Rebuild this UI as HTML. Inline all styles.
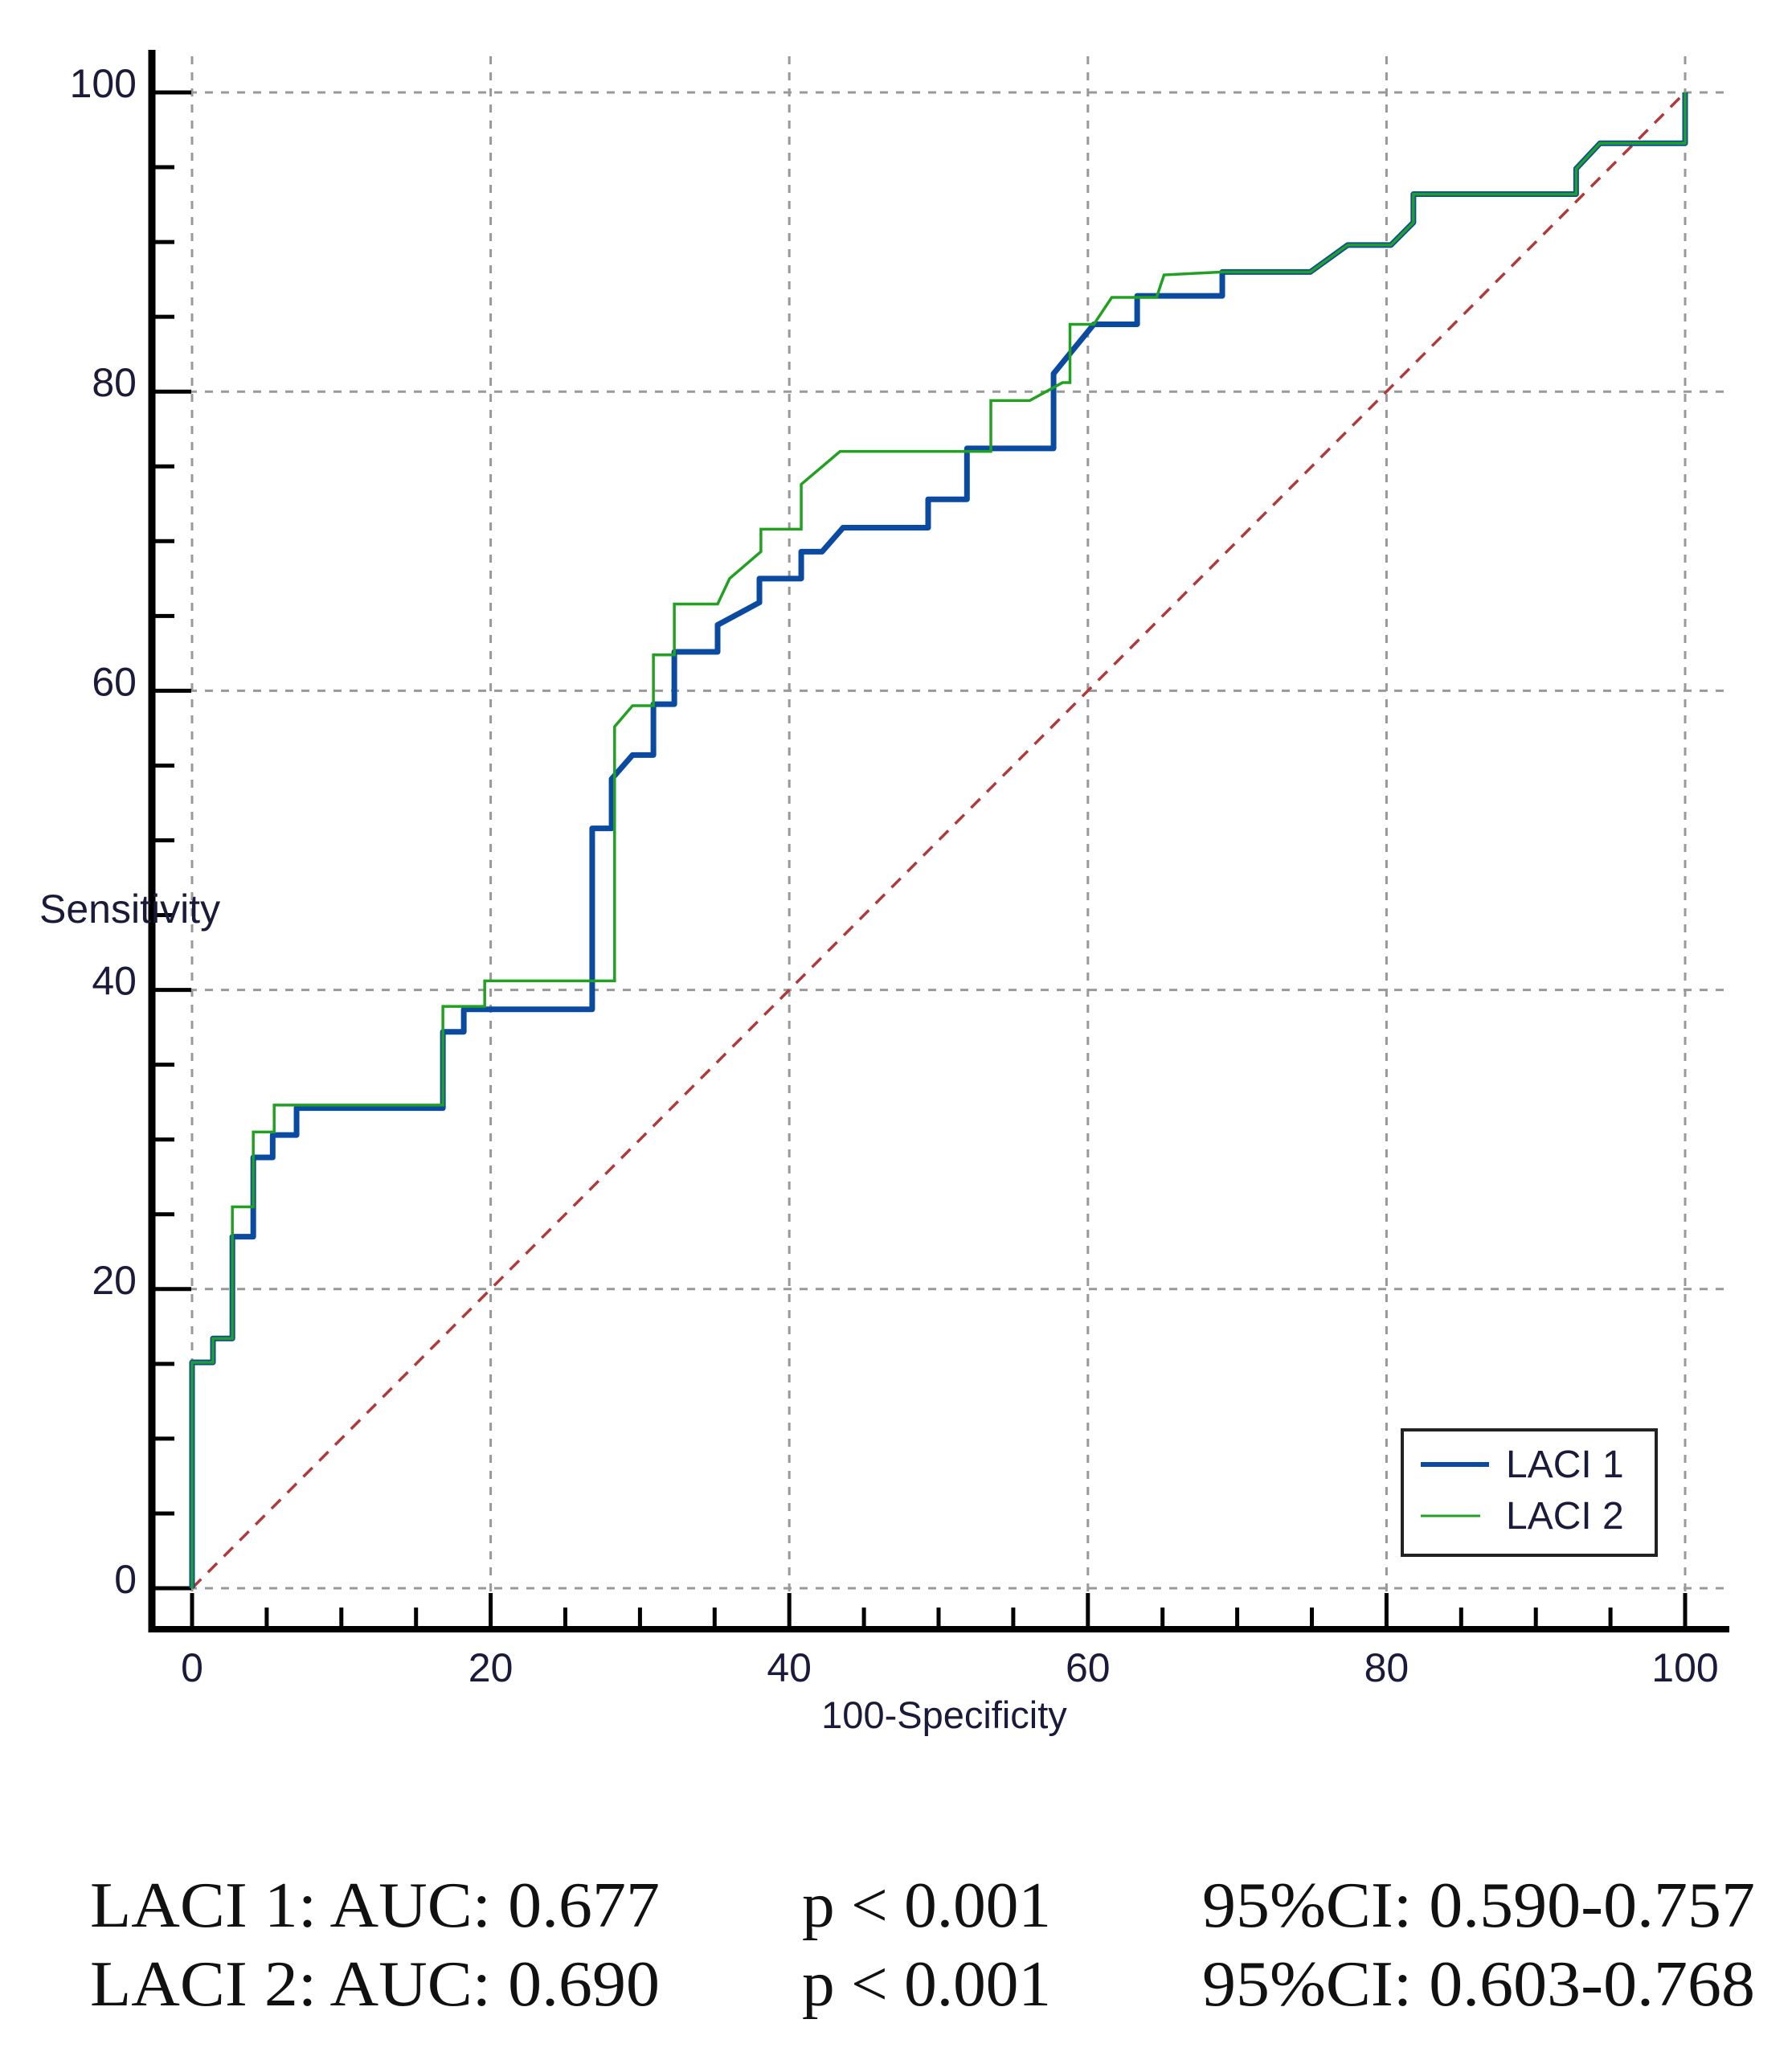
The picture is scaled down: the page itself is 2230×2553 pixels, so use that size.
<!DOCTYPE html>
<html><head><meta charset="utf-8"><style>
html,body{margin:0;padding:0;background:#fff;}
svg{display:block;}
</style></head><body>
<svg id="chart" width="2230" height="2553" viewBox="0 0 2230 2553" xmlns="http://www.w3.org/2000/svg">
<g id="grid"></g>
<g id="axes"></g>
<g id="series"></g>
<g>
  <rect x="1745" y="1779" width="316" height="156" fill="#fff" stroke="#222" stroke-width="4"/>
  <line x1="1768" y1="1822" x2="1853" y2="1822" stroke="#0a4aa0" stroke-width="6"/>
  <text x="1874" y="1838" font-family="Liberation Sans, sans-serif" font-size="48" fill="#1a1a3a">LACI 1</text>
  <line x1="1768" y1="1886" x2="1842" y2="1886" stroke="#22a022" stroke-width="3"/>
  <text x="1874" y="1902" font-family="Liberation Sans, sans-serif" font-size="48" fill="#1a1a3a">LACI 2</text>
</g>
<text x="1175" y="2150" text-anchor="middle" font-family="Liberation Sans, sans-serif" font-size="47" fill="#1a1a3a">100-Specificity</text>
<text x="49" y="1148" font-family="Liberation Sans, sans-serif" font-size="50" fill="#1a1a3a">Sensitivity</text>
<g font-family="Liberation Serif, serif" font-size="80" fill="#111">
  <text x="112" y="2397" textLength="709" lengthAdjust="spacingAndGlyphs">LACI 1: AUC: 0.677</text>
  <text x="998" y="2397" textLength="310" lengthAdjust="spacingAndGlyphs">p &lt; 0.001</text>
  <text x="1496" y="2397" textLength="688" lengthAdjust="spacingAndGlyphs">95%CI: 0.590-0.757</text>
  <text x="112" y="2495" textLength="709" lengthAdjust="spacingAndGlyphs">LACI 2: AUC: 0.690</text>
  <text x="998" y="2495" textLength="310" lengthAdjust="spacingAndGlyphs">p &lt; 0.001</text>
  <text x="1496" y="2495" textLength="688" lengthAdjust="spacingAndGlyphs">95%CI: 0.603-0.768</text>
</g>
</svg>
<script>
const xTicks = [0, 20, 40, 60, 80, 100];
const yTicks = [0, 20, 40, 60, 80, 100];
const laci1X = [0,0,1.4,1.4,2.7,2.7,4.1,4.1,5.4,5.4,7.0,7.0,16.8,16.8,18.2,18.2,26.8,26.8,28.1,28.1,29.5,30.9,30.9,32.3,32.3,35.2,35.2,38.0,38.0,40.8,40.8,42.2,43.6,49.3,49.3,51.9,51.9,57.7,57.7,60.4,63.3,63.3,69.0,69.0,74.9,77.4,80.3,81.8,81.8,92.7,92.7,94.3,100,100];
const laci1Y = [0,15.1,15.1,16.7,16.7,23.5,23.5,28.8,28.8,30.3,30.3,32.1,32.1,37.2,37.2,38.7,38.7,50.8,50.8,54.1,55.7,55.7,59.1,59.1,62.6,62.6,64.4,65.9,67.5,67.5,69.3,69.3,70.9,70.9,72.8,72.8,76.2,76.2,81.2,84.5,84.5,86.4,86.4,88.0,88.0,89.8,89.8,91.3,93.2,93.2,94.9,96.6,96.6,100];
const laci2X = [0,0,1.4,1.4,2.7,2.7,4.1,4.1,5.5,5.5,16.8,16.8,19.6,19.6,28.3,28.3,29.5,30.9,30.9,32.3,32.3,35.2,36.0,38.1,38.1,40.8,40.8,43.4,53.5,53.5,56.1,58.3,58.8,58.8,60.4,61.6,64.6,65.1,69.0,69.0,74.9,77.4,80.3,81.8,81.8,92.7,92.7,94.3,100,100];
const laci2Y = [0,15.1,15.1,16.7,16.7,25.5,25.5,30.5,30.5,32.3,32.3,38.9,38.9,40.6,40.6,57.6,59.0,59.0,62.4,62.4,65.8,65.8,67.5,69.3,70.8,70.8,73.8,76.0,76.0,79.4,79.4,80.6,80.6,84.5,84.5,86.3,86.3,87.8,88.0,88.0,88.0,89.8,89.8,91.3,93.2,93.2,94.9,96.6,96.6,100];
const refX = [0, 100];
const refY = [0, 100];

const NS = 'http://www.w3.org/2000/svg';
const X0 = 239, X1 = 2097, Y0 = 1976, Y1 = 115;
const AXY = 2027;
const xs = v => X0 + (X1 - X0) * v / 100;
const ys = v => Y0 - (Y0 - Y1) * v / 100;
function mk(tag, attrs, parent) {
  const e = document.createElementNS(NS, tag);
  for (const k in attrs) e.setAttribute(k, attrs[k]);
  parent.appendChild(e);
  return e;
}
const grid = document.getElementById('grid');
const axes = document.getElementById('axes');
const series = document.getElementById('series');

xTicks.forEach(t => {
  const l = mk('line', {x1: xs(t), y1: 70, x2: xs(t), y2: AXY - 6, stroke: '#999', 'stroke-width': 3, 'stroke-dasharray': '10,10'}, grid);
  
  
});
yTicks.forEach(t => {
  const l = mk('line', {x1: 195, y1: ys(t), x2: 2145, y2: ys(t), stroke: '#999', 'stroke-width': 3, 'stroke-dasharray': '10,10'}, grid);
  
  
});

const ya = mk('line', {x1: 189, y1: 62, x2: 189, y2: AXY + 4, stroke: '#000', 'stroke-width': 9}, axes);


const xa = mk('line', {x1: 185, y1: AXY, x2: 2152, y2: AXY, stroke: '#000', 'stroke-width': 8}, axes);



for (let v = 0; v <= 100; v += 5) {
  const major = v % 20 === 0;
  const ty = mk('line', {x1: 189, y1: ys(v), x2: major ? 238 : 217, y2: ys(v), stroke: '#000', 'stroke-width': 5}, axes);
  
  
  const tx = mk('line', {x1: xs(v), y1: AXY, x2: xs(v), y2: major ? AXY - 45 : AXY - 27, stroke: '#000', 'stroke-width': 5}, axes);
  
  
}
xTicks.forEach(t => {
  const tl = mk('text', {x: xs(t), y: 2092, 'text-anchor': 'middle', 'font-family': 'Liberation Sans, sans-serif', 'font-size': 50, fill: '#1a1a3a'}, axes);
  tl.textContent = t;
  
  
});
yTicks.forEach(t => {
  const tl = mk('text', {x: 170, y: ys(t) + 6, 'text-anchor': 'end', 'font-family': 'Liberation Sans, sans-serif', 'font-size': 50, fill: '#1a1a3a'}, axes);
  tl.textContent = t;
  
  
});

function pts(X, Y) { return X.map((x, i) => xs(x) + ',' + ys(Y[i])).join(' '); }

const ref = mk('polyline', {points: pts(refX, refY), fill: 'none', stroke: '#b03a3a', 'stroke-width': 3.5, 'stroke-dasharray': '16,12'}, series);



const l1 = mk('polyline', {points: pts(laci1X, laci1Y), fill: 'none', stroke: '#0a4aa0', 'stroke-width': 7, 'stroke-linejoin': 'round'}, series);



const l2 = mk('polyline', {points: pts(laci2X, laci2Y), fill: 'none', stroke: '#22a022', 'stroke-width': 3.5}, series);


</script>
</body></html>
